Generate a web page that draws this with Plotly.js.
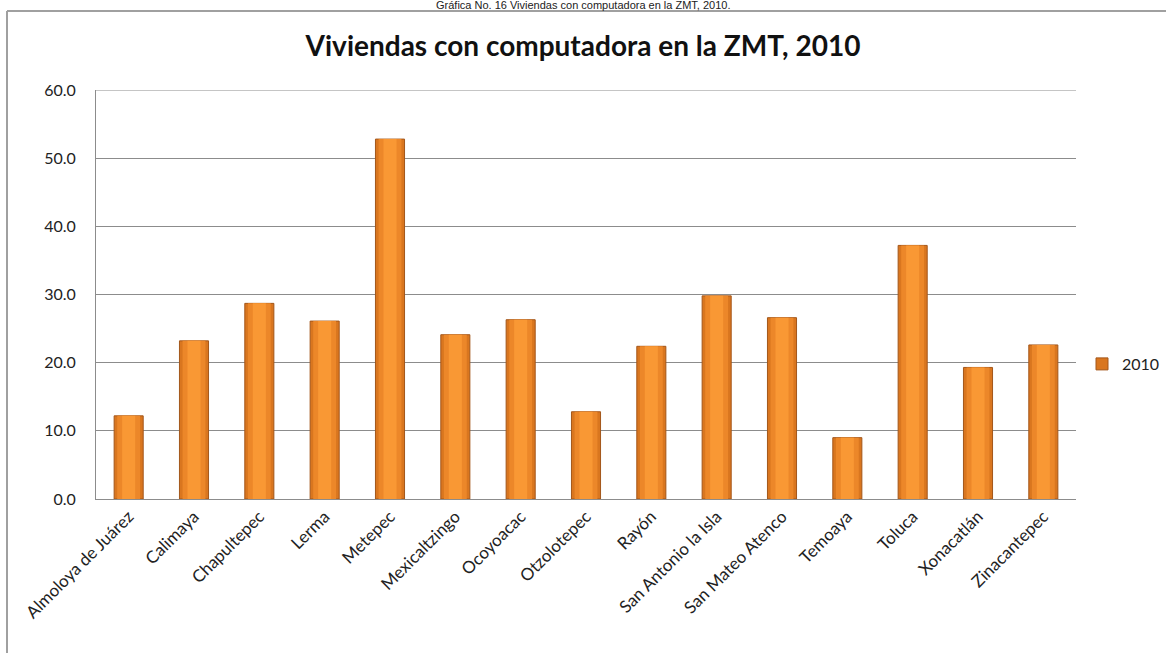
<!DOCTYPE html>
<html>
<head>
<meta charset="utf-8">
<script src="https://cdn.plot.ly/plotly-3.0.1.min.js"></script>
<style>
  html, body { margin: 0; padding: 0; background: #ffffff; }
  #chart { width: 1166px; height: 653px; }
</style>
</head>
<body>
<div id="chart"></div>
<script>
const categories = [
  "Almoloya de Juárez", "Calimaya", "Chapultepec", "Lerma", "Metepec",
  "Mexicaltzingo", "Ocoyoacac", "Otzolotepec", "Rayón", "San Antonio la Isla",
  "San Mateo Atenco", "Temoaya", "Toluca", "Xonacatlán", "Zinacantepec"
];
const values2010 = [12.2, 23.2, 28.7, 26.1, 52.8, 24.1, 26.3, 12.8, 22.4, 29.8, 26.6, 9.0, 37.2, 19.3, 22.6];
const seriesName = "2010";
const yTicks = [0, 10, 20, 30, 40, 50, 60];
const yTickLabels = ["0.0", "10.0", "20.0", "30.0", "40.0", "50.0", "60.0"];

const baseFont = "Lato, 'Open Sans', sans-serif";
const W = 1166, H = 653;
const M = { l: 96, r: 90, t: 90, b: 154 };

const traces = [
  {
    type: "bar", x: categories, y: values2010, name: seriesName,
    width: 0.445,
    marker: { color: "#D9761F", line: { color: "#A3561A", width: 1 } },
    hoverinfo: "x+y"
  },
  {
    type: "bar", x: categories, y: values2010, showlegend: false,
    width: 0.35,
    marker: { color: "#EC8729", line: { width: 0 } },
    hoverinfo: "skip"
  },
  {
    type: "bar", x: categories, y: values2010, showlegend: false,
    width: 0.2,
    marker: { color: "#F99834", line: { width: 0 } },
    hoverinfo: "skip"
  }
];

const layout = {
  width: W, height: H,
  margin: M,
  paper_bgcolor: "#ffffff", plot_bgcolor: "#ffffff",
  barmode: "overlay",
  font: { family: baseFont, size: 15, color: "#222" },
  title: {
    text: "<b>Viviendas con computadora en la ZMT, 2010</b>",
    font: { family: baseFont, size: 28, color: "#111" },
    x: (583) / W, xref: "container", xanchor: "center",
    y: 1 - 46 / H, yref: "container", yanchor: "middle"
  },
  xaxis: {
    type: "category",
    tickangle: -45,
    tickfont: { family: baseFont, size: 17, color: "#222" },
    showline: true, linecolor: "#8c8c8c", linewidth: 1,
    showgrid: false, ticks: "", zeroline: false
  },
  yaxis: {
    range: [0, 60],
    tickvals: yTicks, ticktext: yTickLabels,
    tickfont: { family: baseFont, size: 16, color: "#222" },
    showline: true, linecolor: "#8c8c8c", linewidth: 1,
    showgrid: true, gridcolor: "#8c8c8c", gridwidth: 1,
    zeroline: false, ticks: "", ticklabelstandoff: 16
  },
  showlegend: true,
  legend: {
    xref: "container", yref: "container",
    x: 1082 / W, xanchor: "left", y: 1 - 364 / H, yanchor: "middle",
    font: { family: baseFont, size: 16, color: "#222" },
    bgcolor: "rgba(0,0,0,0)", itemwidth: 30
  },
  shapes: [
    { type: "line", xref: "paper", yref: "y", x0: 0, x1: 1, y0: 60, y1: 60,
      line: { color: "#8c8c8c", width: 1 } },
    { type: "line", xref: "paper", yref: "paper",
      x0: -(M.l - 7) / (W - M.l - M.r), x1: 1 + (M.r + 5) / (W - M.l - M.r),
      y0: 1 + (M.t - 11) / (H - M.t - M.b), y1: 1 + (M.t - 11) / (H - M.t - M.b),
      line: { color: "#a0a0a0", width: 2 } },
    { type: "line", xref: "paper", yref: "paper",
      x0: -(M.l - 7) / (W - M.l - M.r), x1: -(M.l - 7) / (W - M.l - M.r),
      y0: 1 + (M.t - 11) / (H - M.t - M.b), y1: -(M.b + 5) / (H - M.t - M.b),
      line: { color: "#a0a0a0", width: 2 } }
  ],
  annotations: [
    { text: "Gráfica No. 16 Viviendas con computadora en la ZMT, 2010.",
      xref: "paper", yref: "paper",
      x: (583 - M.l) / (W - M.l - M.r), y: 1 + (M.t - 5) / (H - M.t - M.b),
      xanchor: "center", yanchor: "middle", showarrow: false,
      font: { family: "'Liberation Sans', Arial, sans-serif", size: 11, color: "#222" } }
  ]
};

Plotly.newPlot("chart", traces, layout, { displayModeBar: false, staticPlot: true });
</script>
</body>
</html>
